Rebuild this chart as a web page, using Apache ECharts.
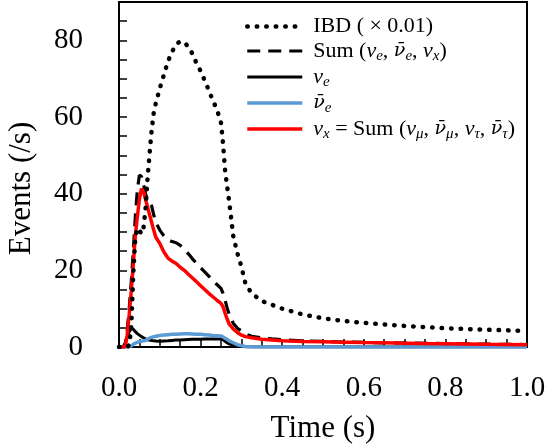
<!DOCTYPE html>
<html>
<head>
<meta charset="utf-8">
<script src="https://cdn.jsdelivr.net/npm/echarts@6/dist/echarts.min.js"></script>
<style>
html,body{margin:0;padding:0;background:#fff;}
#chart{width:545px;height:447px;}
</style>
</head>
<body>
<div id="chart"></div>
<script>
// Time (s)
const times = [0, 0.01, 0.015, 0.02, 0.025, 0.03, 0.035, 0.04, 0.045, 0.05,
  0.055, 0.06, 0.065, 0.07, 0.075, 0.08, 0.085, 0.09, 0.1, 0.11,
  0.12, 0.13, 0.14, 0.15, 0.16, 0.17, 0.18, 0.19, 0.2, 0.21,
  0.22, 0.23, 0.24, 0.25, 0.255, 0.26, 0.265, 0.27, 0.28, 0.29,
  0.3, 0.31, 0.325, 0.35, 0.375, 0.4, 0.45, 0.5, 0.55, 0.6,
  0.65, 0.7, 0.75, 0.8, 0.85, 0.9, 0.95, 1.0];
// IBD (x 0.01)
const ibd = [0, 0, 0, 0, 0.5, 5, 19, 28.5, 31, 30.5,
  29.5, 31, 36, 44, 50.5, 56.5, 61, 63.5, 67.5, 71,
  74.5, 77, 79, 79.7, 79.5, 78.3, 76.5, 74, 72, 69.5,
  67, 64.3, 62, 58.5, 53, 46, 42, 38, 29, 24.5,
  21, 16.5, 14, 12, 11, 10, 8.5, 7.5, 6.8, 6.3,
  5.9, 5.5, 5.2, 4.9, 4.7, 4.5, 4.35, 4.2];
// Sum (nu_e, anti-nu_e, nu_x)
const sumAll = [0, 0, 0.5, 4, 10, 17, 25, 34, 41, 44.8,
  44.5, 42.5, 40, 38.5, 37.5, 36.8, 34.5, 32.5, 30.5, 29,
  28, 27.5, 27.2, 26.5, 25.5, 24.3, 23, 21.8, 20.7, 19.6,
  18.5, 17.4, 16.3, 15.3, 14, 12.2, 10.2, 8.5, 6.2, 4.9,
  4.2, 3.4, 2.8, 2.4, 2.1, 1.9, 1.6, 1.45, 1.3, 1.2,
  1.1, 1.05, 0.95, 0.9, 0.8, 0.75, 0.7, 0.65];
// nu_e
const nuE = [0, 0, 1, 2.5, 4, 4.8, 4.6, 4.0, 3.5, 3.1,
  2.7, 2.4, 2.1, 1.9, 1.8, 1.7, 1.6, 1.55, 1.5, 1.55,
  1.6, 1.7, 1.8, 1.85, 1.9, 1.95, 2.0, 2.0, 2.05, 2.1,
  2.1, 2.1, 2.1, 2.1, 1.9, 1.5, 1.1, 0.8, 0.45, 0.25,
  0.1, 0.05, 0, 0, 0, 0, 0, 0, 0, 0,
  0, 0, 0, 0, 0, 0, 0, 0];
// anti-nu_e
const nuEBar = [0, 0, 0, 0, 0, 0.3, 0.7, 1.0, 1.2, 1.4,
  1.5, 1.6, 1.7, 2.0, 2.3, 2.5, 2.7, 2.8, 3.0, 3.1,
  3.2, 3.3, 3.35, 3.4, 3.45, 3.45, 3.4, 3.35, 3.3, 3.2,
  3.1, 3.0, 2.95, 2.9, 2.6, 2.3, 2.0, 1.6, 1.1, 0.6,
  0.35, 0.15, 0.05, 0, 0, 0, 0, 0, 0, 0,
  0, 0, 0, 0, 0, 0, 0, 0];
// nu_x
const nuX = [0, 0, 0, 3, 8.5, 14.5, 21.5, 29, 34, 38.5,
  41.3, 40.5, 38.5, 36.5, 34.5, 32.5, 30.5, 28.7, 27, 24.8,
  23.2, 22.4, 21.8, 20.8, 20, 19, 18, 17, 16, 15,
  14, 13.1, 12.2, 11.4, 10.5, 8.8, 7.3, 6.0, 4.7, 3.8,
  3.1, 2.7, 2.4, 2.0, 1.8, 1.6, 1.45, 1.35, 1.25, 1.15,
  1.1, 1.0, 0.9, 0.85, 0.8, 0.7, 0.65, 0.6];

const xTickLabels = ['0.0', '0.2', '0.4', '0.6', '0.8', '1.0'];
const yTickLabels = ['0', '20', '40', '60', '80'];

const legendLabels = {
  ibd: '{sp| }{r|IBD ( × 0.01)}',
  sum: '{sp| }{r|Sum (}{i|ν}{s|e}{r|, }{b|ν̄}{s|e}{r|, }{i|ν}{s|x}{r|)}',
  nue: '{sp| }{i|ν}{s|e}',
  nuebar: '{sp| }{b|ν̄}{s|e}',
  nux: '{sp| }{i|ν}{s|x}{r| = Sum (}{i|ν}{s|μ}{r|, }{b|ν̄}{s|μ}{r|, }{i|ν}{s|τ}{r|, }{b|ν̄}{s|τ}{r|)}'
};

function pairs(vals) { return times.map((t, i) => [t, vals[i]]); }

const serif = 'Liberation Serif, Times New Roman, serif';
const styles = {
  ibd: {color: '#000', width: 4.5, type: [0.5, 9], cap: 'round'},
  sum: {color: '#000', width: 3.2, type: [13, 8]},
  nue: {color: '#000', width: 3},
  nuebar: {color: '#5b9bd5', width: 3.5},
  nux: {color: '#ff0000', width: 3.5}
};
const chart = echarts.init(document.getElementById('chart'), null, {renderer: 'canvas'});

chart.setOption({
  animation: false,
  backgroundColor: '#fff',
  grid: {
    left: 119, right: 18, top: 2, bottom: 100,
    show: true, borderColor: '#000', borderWidth: 2, backgroundColor: 'transparent',
    containLabel: false, outerBoundsMode: 'none'
  },
  xAxis: {
    type: 'value', min: 0, max: 1, interval: 0.05,
    name: 'Time (s)', nameLocation: 'middle', nameGap: 66,
    nameTextStyle: {fontFamily: serif, fontSize: 31, color: '#000'},
    axisLine: {show: true, lineStyle: {color: '#000', width: 2}},
    axisTick: {show: true, inside: true, length: 8, lineStyle: {color: '#000', width: 1.5}},
    axisLabel: {
      margin: 27, fontFamily: serif, fontSize: 29, color: '#000',
      showMinLabel: true, showMaxLabel: true,
      formatter: function (v) {
        const k = Math.round(v * 5);
        if (Math.abs(v * 5 - k) < 1e-6) return xTickLabels[k] || '';
        return '';
      }
    },
    splitLine: {show: false}
  },
  yAxis: {
    type: 'value', min: 0, max: 90, interval: 5,
    name: 'Events (/s)', nameLocation: 'middle', nameGap: 82, nameRotate: 90,
    nameTextStyle: {fontFamily: serif, fontSize: 31, color: '#000', padding: [0, 28, 0, 0]},
    axisLine: {show: true, lineStyle: {color: '#000', width: 2}},
    axisTick: {show: true, inside: true, length: 8, lineStyle: {color: '#000', width: 1.5}},
    axisLabel: {
      margin: 36, fontFamily: serif, fontSize: 29, color: '#000',
      formatter: function (v) {
        const k = Math.round(v / 20);
        if (Math.abs(v / 20 - k) < 1e-6) return yTickLabels[k] || '';
        return '';
      }
    },
    splitLine: {show: false}
  },
  legend: {
    orient: 'vertical', left: 245, top: 15, padding: 0,
    itemWidth: 55, itemHeight: 14, itemGap: 0,
    data: ['ibd', 'sum', 'nue', 'nuebar', 'nux'].map(n => ({
      name: n,
      lineStyle: Object.assign({}, styles[n]),
      itemStyle: {opacity: 0, color: 'transparent', borderWidth: 0}
    })),
    formatter: function (name) { return legendLabels[name]; },
    textStyle: {
      fontFamily: serif, fontSize: 22, color: '#000', lineHeight: 23,
      rich: {
        sp: {width: 6, fontSize: 22, lineHeight: 23},
        r: {fontFamily: serif, fontSize: 22, color: '#000', lineHeight: 23},
        i: {fontFamily: serif, fontSize: 22, fontStyle: 'italic', color: '#000', lineHeight: 23},
        b: {fontFamily: 'DejaVu Serif', fontSize: 19, fontStyle: 'italic', color: '#000', lineHeight: 23},
        s: {fontFamily: serif, fontSize: 15, fontStyle: 'italic', color: '#000', lineHeight: 12, padding: [11, 0, 0, 0]}
      }
    }
  },
  series: ['sum', 'nue', 'nuebar', 'nux', 'ibd'].map(n => ({
    name: n, type: 'line', symbol: 'none',
    data: pairs({ibd: ibd, sum: sumAll, nue: nuE, nuebar: nuEBar, nux: nuX}[n]),
    lineStyle: Object.assign({}, styles[n]),
    itemStyle: {color: styles[n].color}
  }))
});
</script>
</body>
</html>
